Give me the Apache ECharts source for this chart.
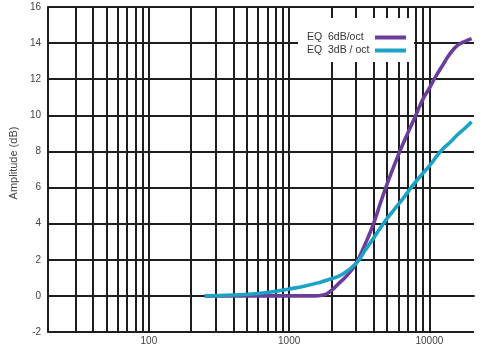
<!DOCTYPE html>
<html>
<head>
<meta charset="utf-8">
<script src="https://cdn.jsdelivr.net/npm/echarts@6/dist/echarts.min.js"></script>
<style>html,body{margin:0;padding:0;background:#fff}#c{width:482px;height:351px}</style>
</head>
<body>
<div id="c"></div>
<script>
// Frequencies (Hz) and amplitudes (dB)
const freq6 = [250, 500, 1000, 1500, 1750, 2000, 2300, 2600, 3000, 3500, 4000, 4500, 5000, 6000, 7000, 8000, 9000, 10000, 11000, 12500, 14000, 16000, 18000, 20000];
const amp6  = [0, 0, 0, 0, 0.05, 0.3, 0.75, 1.15, 1.8, 2.9, 4.0, 5.2, 6.2, 7.8, 9.0, 10.0, 10.9, 11.5, 12.1, 12.8, 13.4, 13.9, 14.1, 14.25];
const freq3 = [250, 400, 600, 800, 1000, 1300, 1600, 2000, 2400, 3000, 3500, 4000, 4700, 5500, 6500, 7500, 9000, 10000, 12000, 14000, 16000, 18000, 20000];
const amp3  = [0, 0.05, 0.13, 0.25, 0.38, 0.55, 0.72, 0.95, 1.2, 1.8, 2.55, 3.2, 4.0, 4.7, 5.4, 6.05, 6.8, 7.2, 8.0, 8.5, 8.95, 9.3, 9.65];
const seriesNames = ['EQ  6dB/oct', 'EQ  3dB / oct'];
const xLabels = [100, 1000, 10000];
const gridFreqs = [30, 40, 50, 60, 70, 80, 90, 100, 200, 300, 400, 500, 600, 700, 800, 900, 1000, 2000, 3000, 4000, 5000, 6000, 7000, 8000, 9000, 10000];
const yMin = -2, yMax = 16, yStep = 2;
const xMin = 19.1, xMax = 20800;

const pair = (xs, ys) => xs.map((x, i) => [x, ys[i]]);
const chart = echarts.init(document.getElementById('c'));
const GRID = '#1e1e1e';
const FONT = 'Liberation Sans, Arial, sans-serif';
chart.setOption({
  animation: false,
  backgroundColor: '#fff',
  grid: { left: 45, top: 7, right: 8, bottom: 19, containLabel: false },
  legend: {
    data: seriesNames,
    orient: 'vertical',
    right: 68, top: 18,
    align: 'right',
    backgroundColor: '#fff',
    padding: [14, 8, 6, 9],
    itemGap: 2,
    itemWidth: 31, itemHeight: 4,
    icon: 'rect',
    z: 30,
    formatter: name => '{a|' + name + '}',
    textStyle: {
      fontFamily: FONT, fontSize: 10.5, color: '#333',
      rich: { a: { fontFamily: FONT, fontSize: 10.5, color: '#333', width: 63, align: 'left' } }
    },
    selectedMode: false
  },
  xAxis: {
    type: 'log', min: xMin, max: xMax,
    axisLine: { show: true, lineStyle: { color: GRID, width: 2 } },
    axisTick: { show: false },
    splitLine: { show: false },
    minorTick: { show: false }, minorSplitLine: { show: false },
    axisLabel: {
      margin: 4,
      fontFamily: FONT, fontSize: 10, color: '#444',
      showMinLabel: false, showMaxLabel: false,
      formatter: v => { const r = Math.round(v); return xLabels.includes(r) ? String(r) : ''; }
    }
  },
  yAxis: {
    type: 'value', min: yMin, max: yMax, interval: yStep,
    name: 'Amplitude (dB)', nameLocation: 'middle', nameGap: 27,
    nameTextStyle: { fontFamily: FONT, fontSize: 11, color: '#444', padding: [0, 0, 0, 13] },
    axisLine: { show: true, lineStyle: { color: GRID, width: 2 } },
    axisTick: { show: false },
    splitLine: { show: true, lineStyle: { color: GRID, width: 2 } },
    axisLabel: { margin: 7, fontFamily: FONT, fontSize: 10, color: '#444' }
  },
  series: [
    {
      name: 'grid', type: 'line', data: [], z: 1, silent: true,
      markLine: {
        z: 1, silent: true, symbol: 'none', animation: false,
        label: { show: false },
        lineStyle: { color: GRID, width: 2, type: 'solid' },
        emphasis: { disabled: true },
        data: gridFreqs.map(f => ({ xAxis: f }))
      }
    },
    {
      name: seriesNames[0], type: 'line', data: pair(freq6, amp6), z: 20,
      smooth: true, showSymbol: false, symbol: 'none',
      lineStyle: { color: '#6b3d9a', width: 3.6 }, itemStyle: { color: '#6b3d9a' }
    },
    {
      name: seriesNames[1], type: 'line', data: pair(freq3, amp3), z: 21,
      smooth: true, showSymbol: false, symbol: 'none',
      lineStyle: { color: '#1ba2c4', width: 3.6 }, itemStyle: { color: '#1ba2c4' }
    }
  ]
});
</script>
</body>
</html>
